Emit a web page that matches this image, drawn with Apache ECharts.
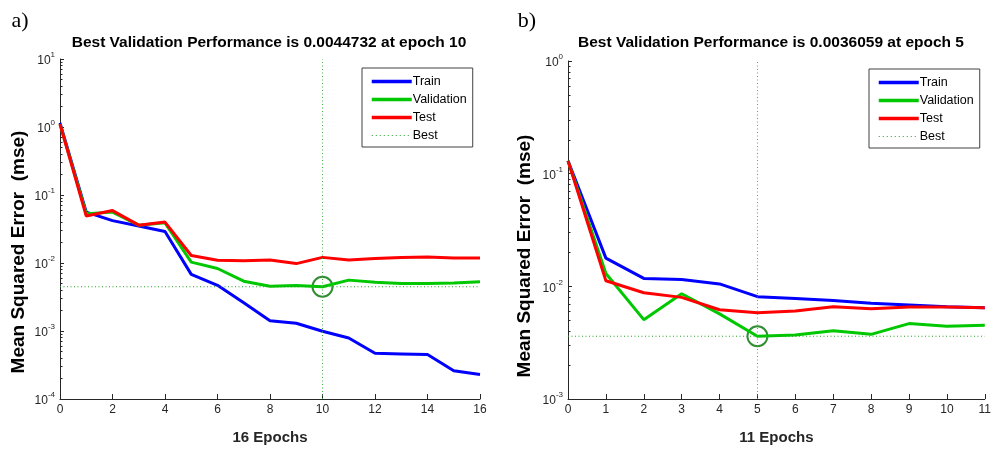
<!DOCTYPE html>
<html><head><meta charset="utf-8">
<script src="https://cdn.jsdelivr.net/npm/echarts@6/dist/echarts.min.js"></script>
<style>html,body{margin:0;padding:0;background:#fff}#c{width:994px;height:450px}</style>
</head><body><div id="c"></div>
<script>
// ---- data (a) ----
const epochsA = [0,1,2,3,4,5,6,7,8,9,10,11,12,13,14,15,16];
const trainA = [1.15,0.056,0.042,0.035,0.029,0.0068,0.0047,0.0026,0.00142,0.0013,0.00099,0.00079,0.00047,0.00046,0.00045,0.00026,0.00023];
const valA   = [1.1,0.053,0.056,0.036,0.039,0.0103,0.0083,0.0054,0.00454,0.00465,0.0044732,0.0056,0.0052,0.0050,0.0050,0.0051,0.0053];
const testA  = [1.1,0.049,0.059,0.036,0.040,0.0129,0.011,0.0108,0.0111,0.0098,0.0121,0.0111,0.0116,0.0120,0.0123,0.0118,0.0118];
const bestEpochA = 10, bestPerfA = 0.0044732;
const yRangeA = [1e-4, 10];
// ---- data (b) ----
const epochsB = [0,1,2,3,4,5,6,7,8,9,10,11];
const trainB = [0.13,0.0178,0.01175,0.0115,0.0105,0.0081,0.0078,0.0075,0.00706,0.00683,0.0066,0.00646];
const valB   = [0.13,0.0130,0.00506,0.0086,0.0057,0.0036059,0.0037,0.00404,0.00375,0.00467,0.00442,0.00451];
const testB  = [0.13,0.0112,0.00877,0.00798,0.0062,0.00583,0.00604,0.00659,0.00634,0.00656,0.00654,0.00646];
const bestEpochB = 5, bestPerfB = 0.0036059;
const yRangeB = [1e-3, 1];
const titleA = 'Best Validation Performance is 0.0044732 at epoch 10';
const titleB = 'Best Validation Performance is 0.0036059 at epoch 5';
const xNameA = '16 Epochs', xNameB = '11 Epochs';
const yName = 'Mean Squared Error  (mse)';
const legendNames = ['Train','Validation','Test','Best'];

const AX = '#262626';
const FONT = '"Liberation Sans", Arial, sans-serif';
function minorVals(r){ const out=[]; for(let k=Math.round(Math.log10(r[0]));k<Math.round(Math.log10(r[1]));k++){for(let m=2;m<=9;m++) out.push(m*Math.pow(10,k));} return out; }
function majorVals(r){ const out=[]; for(let k=Math.round(Math.log10(r[0]));k<=Math.round(Math.log10(r[1]));k++) out.push(Math.pow(10,k)); return out; }
function pairs(xs, ys){ return xs.map((x,i)=>[x, ys[i]]); }

function yAxes(gi, r){
  return [{
    type:'log', gridIndex:gi, min:r[0], max:r[1], logBase:10,
    axisLine:{show:true,lineStyle:{color:AX,width:1}},
    axisTick:{show:true,inside:true,length:4,lineStyle:{color:AX}, customValues: majorVals(r)},
    splitLine:{show:false},
    axisLabel:{color:AX, margin:5, customValues: majorVals(r),
      formatter: v => '{b|10}{s|' + Math.round(Math.log10(v)) + '}',
      rich:{ b:{fontSize:12,fontFamily:FONT,color:AX,lineHeight:16,verticalAlign:'bottom'},
             s:{fontSize:8,fontFamily:FONT,color:AX,lineHeight:16,verticalAlign:'top'} } }
  },{
    type:'log', gridIndex:gi, min:r[0], max:r[1], logBase:10, position:'left', offset:0,
    axisLine:{show:false},
    axisTick:{show:true,inside:true,length:2.5,lineStyle:{color:AX}, customValues: minorVals(r)},
    axisLabel:{show:false}, splitLine:{show:false}
  }];
}
function xAxis(gi, max, name){
  return {type:'value', gridIndex:gi, min:0, max:max, interval: max>12?2:1,
    name:name, nameLocation:'middle', nameGap:31,
    nameTextStyle:{fontFamily:FONT,fontWeight:'bold',fontSize:15,color:AX},
    axisLine:{lineStyle:{color:AX}}, axisTick:{inside:true,length:5,lineStyle:{color:AX}},
    axisLabel:{color:AX,fontFamily:FONT,fontSize:12,margin:5}, splitLine:{show:false}};
}
function seriesFor(xi, yi, xs, tr, va, te, be, bp, r, xmax){
  const base = {type:'line', xAxisIndex:xi, yAxisIndex:yi, symbol:'none', showSymbol:false, silent:true, animation:false};
  return [
    Object.assign({name:'Train', data:pairs(xs,tr), lineStyle:{color:'#0000ff',width:3}, itemStyle:{color:'#0000ff'}}, base),
    Object.assign({name:'Validation', data:pairs(xs,va), lineStyle:{color:'#00c800',width:3}, itemStyle:{color:'#00c800'}}, base),
    Object.assign({name:'Test', data:pairs(xs,te), lineStyle:{color:'#ff0000',width:3}, itemStyle:{color:'#ff0000'}}, base),
    Object.assign({name:'Best', data:[[0,bp],[xmax,bp]], lineStyle:{color:'#22a022',width:1,type:[1,2.5]}, itemStyle:{color:'#22a022'}}, base),
    Object.assign({name:'BestV', data:[[be,r[0]],[be,r[1]]], lineStyle:{color:'#44b044',width:1,type:[1,2.5]}}, base),
    {type:'scatter', xAxisIndex:xi, yAxisIndex:yi, name:'BestPt', data:[[be,bp]], symbol:'circle', symbolSize:20, silent:true, animation:false,
     itemStyle:{color:'rgba(0,0,0,0)', borderColor:'#007000', borderWidth:2}}
  ];
}
function legend(left, top){
  const data = legendNames.map(n => n === 'Best'
    ? {name:n, lineStyle:{width:1.2, type:[1,3]}}
    : {name:n, lineStyle:{width:3.5}});
  return {data:data, orient:'vertical', left:left, top:top, itemWidth:40, itemHeight:12, itemGap:5,
    padding:[7,6,5,8], borderColor:'#404040', borderWidth:1, backgroundColor:'#fff', selectedMode:false,
    itemStyle:{opacity:0, borderWidth:0},
    textStyle:{fontFamily:FONT,fontSize:12.5,color:'#000',padding:[0,0,0,-4]}};
}
function txt(x,y,text,font,rot){
  return {type:'text', x:x, y:y, rotation: rot||0, silent:true,
    style:{text:text, font:font, fill:'#000', align:'center', verticalAlign:'middle', textAlign:'center', textVerticalAlign:'middle'}};
}

const chart = echarts.init(document.getElementById('c'), null, {renderer:'canvas'});
chart.setOption({
  animation:false,
  backgroundColor:'#fff',
  grid:[{left:60,top:59,width:420,height:343},{left:568,top:61,width:419.5,height:338.5}],
  xAxis:[xAxis(0,16,xNameA), xAxis(1,11,xNameB)],
  yAxis:[...yAxes(0,yRangeA), ...yAxes(1,yRangeB)],
  legend:[legend(362,68), legend(869,69)],
  series:[...seriesFor(0,0,epochsA,trainA,valA,testA,bestEpochA,bestPerfA,yRangeA,16),
          ...seriesFor(1,2,epochsB,trainB,valB,testB,bestEpochB,bestPerfB,yRangeB,11)],
  graphic:[
    txt(20,21,'a)','22px "Liberation Serif", "Times New Roman", serif'),
    txt(527,21,'b)','22px "Liberation Serif", "Times New Roman", serif'),
    txt(269,43,titleA,'bold 15.5px '+FONT),
    txt(771,43,titleB,'bold 15.5px '+FONT),
    txt(19,252,yName,'bold 19px '+FONT, Math.PI/2),
    txt(525,256,yName,'bold 19px '+FONT, Math.PI/2)
  ]
});
</script></body></html>
